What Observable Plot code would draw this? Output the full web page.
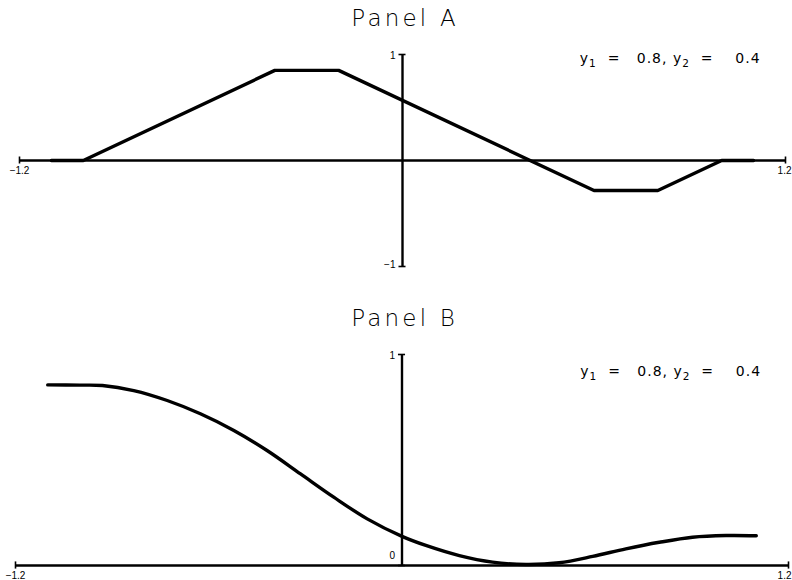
<!DOCTYPE html>
<html>
<head>
<meta charset="utf-8">
<script src="https://cdn.jsdelivr.net/npm/d3@7"></script>
<script src="https://cdn.jsdelivr.net/npm/@observablehq/plot@0.6"></script>
<style>
  html, body { margin: 0; padding: 0; background: #fff; }
  #chart { width: 792px; height: 580px; overflow: hidden; }
  #chart svg { display: block; }
  #chart g.ttl text { letter-spacing: 3.2px; }
  #chart g.ann text { letter-spacing: 1px; }
</style>
</head>
<body>
<div id="chart"></div>
<script>
// Panel A: piecewise-linear curve
const xA = [-1.1, -1.0, -0.4, -0.2, 0.6, 0.8, 1.0, 1.1];
const yA = [0, 0, 0.85, 0.85, -0.283, -0.283, 0, 0];

// Panel B: smooth curve
const xB = [-1.1, -1.0, -0.93, -0.833, -0.729, -0.626, -0.522, -0.419, -0.315, -0.212, -0.108, 0.0,
            0.074, 0.178, 0.281, 0.385, 0.488, 0.592, 0.695, 0.799, 0.902, 1.006, 1.1];
const yB = [0.856, 0.855, 0.853, 0.829, 0.782, 0.719, 0.640, 0.545, 0.434, 0.324, 0.221, 0.138,
            0.095, 0.047, 0.016, 0.005, 0.013, 0.043, 0.079, 0.110, 0.134, 0.142, 0.141];

const titles = ["Panel A", "Panel B"];
const NB = "\u00A0";
// annotation pieces: [text, isSubscript]
const annParts = [
  ["y", false], ["1", true],
  [NB + NB + "=" + NB + NB + NB + "0.8," + NB + "y", false], ["2", true],
  [NB + NB + "=" + NB + NB + NB + NB + "0.4", false]
];
const annotation = annParts.map(d => d[0]).join("");
const xTickLabels = ["\u22121.2", "1.2"];
const xTicks = [-1.2, 1.2];
const yTicksA = [1, -1];
const yTickLabelsA = ["1", "\u22121"];
const yTicksB = [1, 0];
const yTickLabelsB = ["1", "0"];

const dataA = xA.map((x, i) => ({x, y: yA[i]}));
const dataB = xB.map((x, i) => ({x, y: yB[i]}));

const titleFont = {fontFamily: "DejaVu Sans", fontSize: 23, fontWeight: 200};
const tickFont = {fontFamily: "Liberation Sans", fontSize: 10};
const annFont = {fontFamily: "DejaVu Sans", fontSize: 14};

function panel({data, ydom, height, mTop, mBottom, mLeft, mRight, title, yTicks, yLabels, yLabelDy, ann, curve, tickHalfY, tickHalfX, rightLabelDx}) {
  return Plot.plot({
    width: 792,
    height,
    marginTop: mTop,
    marginBottom: mBottom,
    marginLeft: mLeft,
    marginRight: mRight,
    style: {background: "#fff", overflow: "visible"},
    x: {domain: [-1.2, 1.2], axis: null},
    y: {domain: ydom, axis: null},
    marks: [
      Plot.ruleY([0], {x1: -1.2, x2: 1.2, stroke: "#000", strokeWidth: 2.4}),
      Plot.ruleX(xTicks, {y1: -tickHalfY, y2: tickHalfY, stroke: "#000", strokeWidth: 1.6}),
      Plot.ruleX([0], {y1: ydom[0], y2: ydom[1], stroke: "#000", strokeWidth: 2.4}),
      Plot.ruleY(yTicks, {x1: -tickHalfX, x2: tickHalfX, stroke: "#000", strokeWidth: 1.6}),
      Plot.line(data, {x: "x", y: "y", stroke: "#000", strokeWidth: 3.4, curve}),
      Plot.text([xTicks[0]], {x: d => d, y: 0, text: () => xTickLabels[0], dy: 10, fill: "#000", ...tickFont}),
      Plot.text([xTicks[1]], {x: d => d, y: 0, text: () => xTickLabels[1], dy: 10, dx: rightLabelDx, textAnchor: "end", fill: "#000", ...tickFont}),
      ...yTicks.map((t, i) => Plot.text([t], {x: 0, y: d => d, text: () => yLabels[i], dx: -7, dy: yLabelDy[i], textAnchor: "end", fill: "#000", ...tickFont})),
      Plot.text([title], {frameAnchor: "top", lineAnchor: "middle", dy: -36, dx: 2.6, text: d => d, fill: "#000", className: "ttl", ...titleFont}),
      Plot.text([annotation], {x: ann[0], y: ann[1], text: d => d, textAnchor: "end", fill: "#000", className: "ann", ...annFont})
    ]
  });
}

function subscriptify(svg) {
  svg.querySelectorAll("g.ann text").forEach(t => {
    t.textContent = "";
    annParts.forEach(([s, sub]) => {
      const ts = document.createElementNS("http://www.w3.org/2000/svg", "tspan");
      ts.textContent = s;
      if (sub) {
        ts.setAttribute("font-size", "10.5");
        ts.setAttribute("dy", "4");
      } else if (t.childNodes.length > 0) {
        ts.setAttribute("dy", "-4");
      }
      t.appendChild(ts);
    });
  });
  return svg;
}

const chart = document.getElementById("chart");
chart.append(subscriptify(panel({
  data: dataA, ydom: [-1, 1], height: 300, mTop: 54, mBottom: 34, mLeft: 19, mRight: 7,
  title: titles[0], yTicks: yTicksA, yLabels: yTickLabelsA, yLabelDy: [1, -2],
  ann: [1.122, 0.958], curve: "linear", tickHalfY: 0.033, tickHalfX: 0.011, rightLabelDx: 6
})));
chart.append(subscriptify(panel({
  data: dataB, ydom: [0, 1], height: 280, mTop: 54, mBottom: 15, mLeft: 15, mRight: 4,
  title: titles[1], yTicks: yTicksB, yLabels: yTickLabelsB, yLabelDy: [1, -10],
  ann: [1.115, 0.917], curve: "catmull-rom", tickHalfY: 0.017, tickHalfX: 0.011, rightLabelDx: 3
})));
</script>
</body>
</html>
